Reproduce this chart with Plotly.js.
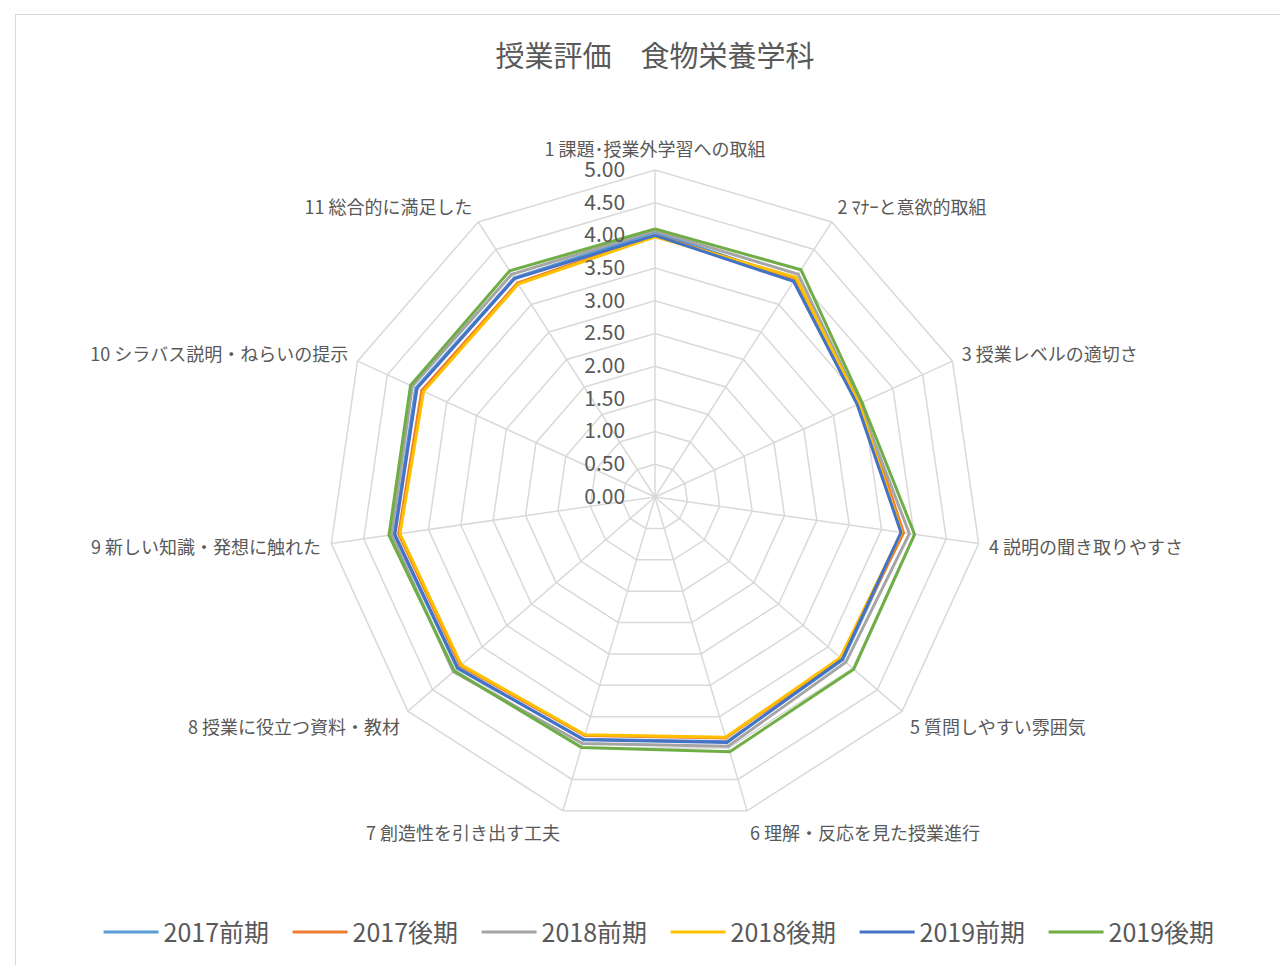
<!DOCTYPE html>
<html>
<head>
<meta charset="utf-8">
<script src="https://cdn.plot.ly/plotly-3.0.1.min.js"></script>
<style>
  html, body { margin: 0; padding: 0; background: #ffffff; overflow: hidden; }
  #frame { position: absolute; left: 15px; top: 14px; width: 1290px; height: 990px; border: 1px solid #d9d9d9; box-sizing: border-box; }
  #chart { position: absolute; left: 0; top: 0; width: 1280px; height: 965px; }
</style>
</head>
<body>
<div id="frame"></div>
<div id="chart"></div>
<script>
const categories = [
  "1 課題･授業外学習への取組",
  "2 ﾏﾅｰと意欲的取組",
  "3 授業レベルの適切さ",
  "4 説明の聞き取りやすさ",
  "5 質問しやすい雰囲気",
  "6 理解・反応を見た授業進行",
  "7 創造性を引き出す工夫",
  "8 授業に役立つ資料・教材",
  "9 新しい知識・発想に触れた",
  "10 シラバス説明・ねらいの提示",
  "11 総合的に満足した"
];
const seriesNames = ["2017前期", "2017後期", "2018前期", "2018後期", "2019前期", "2019後期"];
const s2017a = [4.05, 3.95, 3.42, 3.82, 3.80, 3.90, 3.86, 4.00, 4.03, 4.02, 3.98];
const s2017b = [4.00, 3.97, 3.46, 3.84, 3.76, 3.84, 3.80, 3.94, 3.96, 3.92, 3.89];
const s2018a = [4.07, 4.05, 3.44, 3.93, 3.86, 3.97, 3.93, 4.08, 4.07, 4.08, 4.05];
const s2018b = [3.98, 3.99, 3.43, 3.81, 3.75, 3.83, 3.79, 3.92, 3.94, 3.89, 3.87];
const s2019a = [4.00, 3.92, 3.40, 3.80, 3.79, 3.91, 3.87, 3.99, 4.02, 4.00, 3.97];
const s2019b = [4.10, 4.13, 3.48, 4.01, 4.02, 4.06, 3.99, 4.06, 4.11, 4.11, 4.11];
const radialTicks = [0, 0.5, 1, 1.5, 2, 2.5, 3, 3.5, 4, 4.5, 5];

const allValues = [s2017a, s2017b, s2018a, s2018b, s2019a, s2019b];
const colors = ["#5B9BD5", "#ED7D31", "#A5A5A5", "#FFC000", "#4472C4", "#70AD47"];
const FONT = '"Noto Sans CJK JP", "Noto Sans", sans-serif';

const traces = allValues.map((vals, i) => ({
  type: 'scatterpolar',
  mode: 'lines',
  name: seriesNames[i],
  r: vals.concat([vals[0]]),
  theta: categories.concat([categories[0]]),
  line: { color: colors[i], width: 3 },
  hoverinfo: 'skip'
}));

const layout = {
  width: 1280,
  height: 965,
  paper_bgcolor: 'rgba(0,0,0,0)',
  plot_bgcolor: 'rgba(0,0,0,0)',
  margin: { l: 0, r: 0, t: 0, b: 0 },
  font: { family: FONT, color: '#595959' },
  title: {
    text: '授業評価　食物栄養学科',
    font: { family: FONT, size: 29, color: '#595959' },
    x: 0.5117, xanchor: 'center',
    y: 0.941, yanchor: 'middle'
  },
  showlegend: true,
  legend: {
    orientation: 'h',
    x: 0.520, xanchor: 'center',
    y: 0.034, yanchor: 'middle',
    font: { family: FONT, size: 25, color: '#595959' },
    itemwidth: 55,
    entrywidth: 119,
    entrywidthmode: 'pixels',
    tracegroupgap: 0
  },
  polar: {
    domain: { x: [0.25625, 0.76719], y: [0.1461, 0.8238] },
    bgcolor: 'rgba(0,0,0,0)',
    gridshape: 'linear',
    angularaxis: {
      rotation: 90,
      direction: 'clockwise',
      type: 'category',
      categoryorder: 'array',
      categoryarray: categories,
      showline: true,
      linecolor: '#d9d9d9',
      linewidth: 1.5,
      gridcolor: '#d9d9d9',
      gridwidth: 1.5,
      ticks: 'outside',
      ticklen: 6,
      tickcolor: 'rgba(0,0,0,0)',
      tickfont: { family: FONT, size: 18, color: '#595959' }
    },
    radialaxis: {
      range: [0, 5],
      tickvals: radialTicks,
      tickformat: '.2f',
      angle: 90,
      tickangle: 90,
      side: 'counterclockwise',
      showline: false,
      ticks: 'outside',
      ticklen: 22,
      tickcolor: 'rgba(0,0,0,0)',
      gridcolor: '#d9d9d9',
      gridwidth: 1.5,
      tickfont: { family: FONT, size: 21, color: '#595959' }
    }
  }
};

Plotly.newPlot('chart', traces, layout, { displayModeBar: false, staticPlot: true });
</script>
</body>
</html>
